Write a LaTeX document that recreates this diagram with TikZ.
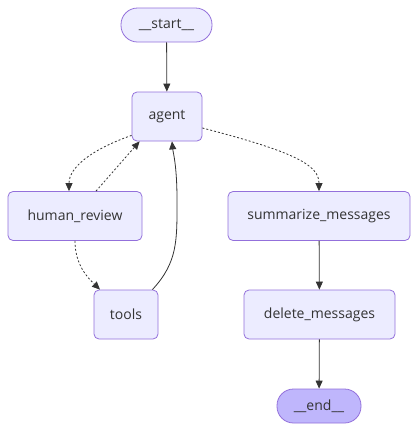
\documentclass[tikz,border=0pt]{standalone}
\usepackage{fontspec}
\setmainfont{Open Sans}
\usetikzlibrary{arrows.meta}
\definecolor{nodefill}{HTML}{ECECFF}
\definecolor{nodeline}{HTML}{9370DB}
\definecolor{endfill}{HTML}{BFB6FC}
\definecolor{ink}{HTML}{333333}
\begin{document}
\begin{tikzpicture}[
  x=1pt, y=-1pt,
  box/.style={
    draw=nodeline, fill=nodefill, line width=0.8pt,
    minimum height=49pt, inner sep=0pt,
    text=ink, font=\fontsize{14}{16}\selectfont,
    rounded corners=5pt,
  },
  pill/.style={box, minimum height=34pt, rounded corners=16.5pt},
  edge/.style={draw=ink, line width=0.8pt, -{Triangle[length=8pt,width=7pt]}},
  cond/.style={edge, dash pattern=on 2pt off 2pt},
]

\useasboundingbox (0,0) rectangle (418,432);

% nodes (pixel grid of the reference)
\node[pill, minimum width=91pt] (start) at (166.5, 25) {\_\_start\_\_};
\node[box, minimum width=70pt]  (agent) at (167, 116.5) {agent};
\node[box, minimum width=134pt] (review) at (75, 216) {human\_review};
\node[box, minimum width=182pt] (summ) at (319, 216) {summarize\_messages};
\node[box, minimum width=64pt]  (tools) at (126, 314.5) {tools};
\node[box, minimum width=151pt] (delete) at (319.5, 314.5) {delete\_messages};
\node[pill, minimum width=84pt, fill=endfill] (end) at (319, 406) {\_\_end\_\_};

% solid edges
\draw[edge] (start) -- (agent);
\draw[edge] (summ) -- (delete);
\draw[edge] (delete) -- (end);

% tools back to agent
\draw[edge] ([xshift=-6pt]tools.north east)
  .. controls (178,262) and (177,240) .. (177,200)
  .. controls (177,165) and (173,152) .. ([xshift=5pt]agent.south);

% conditional edges
\draw[cond] ([yshift=6pt]agent.south west)
  .. controls (90,150) and (69,168) .. ([xshift=-6pt]review.north);
\draw[cond] ([xshift=21pt]review.north) -- ([xshift=8pt]agent.south west);
\draw[cond] ([yshift=-11.5pt]agent.east)
  .. controls (295,152) and (319,165) .. (summ.north);
\draw[cond] (review.south)
  .. controls (75,265) and (88,278) .. ([xshift=-26pt]tools.north);

\end{tikzpicture}
\end{document}
